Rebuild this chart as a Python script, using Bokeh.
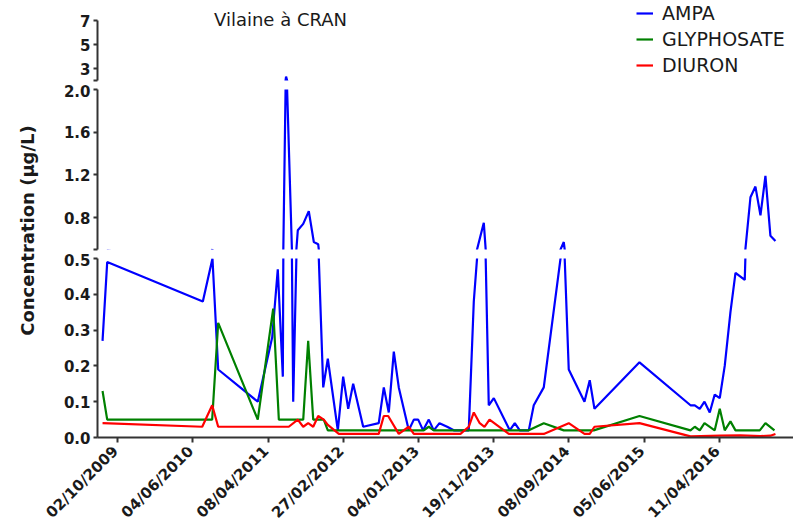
import math
from bokeh.plotting import figure
from bokeh.layouts import row, column
from bokeh.core.properties import value
from bokeh.models import (Range1d, FixedTicker, Label, LabelSet, Legend, LegendItem,
                          NumeralTickFormatter, ColumnDataSource)
from bokeh.embed import file_html
from bokeh.resources import INLINE

# ---------------- data ----------------
title_text = "Vilaine à CRAN"
y_label = "Concentration (µg/L)"
series_names = ["AMPA", "GLYPHOSATE", "DIURON"]
series_colors = ["#0000ff", "#008000", "#ff0000"]

x_tick_labels = ["02/10/2009", "04/06/2010", "08/04/2011", "27/02/2012", "04/01/2013",
                 "19/11/2013", "08/09/2014", "05/06/2015", "11/04/2016"]

# x positions expressed in units of the (evenly spaced) date tick interval
ampa_x = [-0.199, -0.137, 1.134, 1.262, 1.338, 1.864, 2.056, 2.130, 2.197, 2.240, 2.335,
          2.396, 2.468, 2.542, 2.609, 2.667, 2.734, 2.795, 2.928, 2.999, 3.066, 3.132,
          3.265, 3.472, 3.539, 3.605, 3.672, 3.738, 3.871, 3.938, 3.996, 4.062, 4.137,
          4.203, 4.279, 4.381, 4.469, 4.668, 4.735, 4.868, 4.934, 5.001, 5.213, 5.280,
          5.346, 5.466, 5.532, 5.665, 5.931, 5.997, 6.206, 6.276, 6.339, 6.937, 7.615,
          7.672, 7.738, 7.801, 7.871, 7.937, 8.004, 8.070, 8.146, 8.213, 8.336, 8.412,
          8.478, 8.545, 8.611, 8.677, 8.744]
ampa_y = [0.27, 0.49, 0.38, 0.50, 0.19, 0.10, 0.28, 0.47, 0.17, 2.33, 0.10,
          0.68, 0.74, 0.86, 0.57, 0.55, 0.14, 0.22, 0.02, 0.17, 0.08, 0.15,
          0.03, 0.04, 0.14, 0.07, 0.24, 0.14, 0.02, 0.05, 0.05, 0.02, 0.05,
          0.02, 0.04, 0.03, 0.02, 0.02, 0.38, 0.75, 0.09, 0.11, 0.02, 0.04,
          0.02, 0.02, 0.09, 0.14, 0.57, 0.19, 0.10, 0.16, 0.08, 0.21, 0.09,
          0.09, 0.08, 0.10, 0.07, 0.12, 0.11, 0.20, 0.35, 0.46, 0.44, 0.99,
          1.09, 0.82, 1.19, 0.63, 0.58]

glypho_x = [-0.199, -0.137, 1.258, 1.338, 1.864, 2.069, 2.144, 2.468, 2.534, 2.601, 2.741,
            2.795, 4.070, 4.137, 4.203, 5.466, 5.665, 5.931, 6.330, 6.937, 7.615, 7.672,
            7.738, 7.801, 7.937, 8.004, 8.070, 8.146, 8.213, 8.536, 8.611, 8.731]
glypho_y = [0.13, 0.05, 0.05, 0.32, 0.05, 0.36, 0.05, 0.05, 0.27, 0.05, 0.05,
            0.02, 0.02, 0.03, 0.02, 0.02, 0.04, 0.02, 0.02, 0.06, 0.02, 0.03,
            0.02, 0.04, 0.02, 0.08, 0.02, 0.045, 0.02, 0.02, 0.04, 0.02]

diuron_x = [-0.199, 1.126, 1.258, 1.338, 2.276, 2.396, 2.468, 2.534, 2.601, 2.667, 2.741,
            2.795, 2.941, 3.472, 3.539, 3.597, 3.738, 3.871, 3.938, 4.558, 4.668, 4.735,
            4.814, 4.877, 4.944, 5.200, 5.665, 5.997, 6.206, 6.276, 6.339, 6.937, 7.615,
            8.013, 8.279, 8.545, 8.677, 8.744]
diuron_y = [0.04, 0.03, 0.09, 0.03, 0.03, 0.05, 0.03, 0.04, 0.03, 0.06, 0.05,
            0.035, 0.01, 0.01, 0.06, 0.06, 0.01, 0.03, 0.01, 0.01, 0.03, 0.07,
            0.04, 0.03, 0.05, 0.01, 0.01, 0.04, 0.01, 0.01, 0.03, 0.04, 0.003,
            0.005, 0.006, 0.004, 0.005, 0.01]

# broken y axis: three segments
bottom_ticks = [0.0, 0.1, 0.2, 0.3, 0.4, 0.5]
middle_ticks = [0.5, 0.8, 1.2, 1.6, 2.0]
top_ticks = [2, 3, 5, 7]

# ---------------- styling ----------------
FONT = "DejaVu Sans"
TXT = "#1a1a1a"
AX = "#333333"
LAB_W = 40
MAIN_W = 753
LEFT = 57
X_AXIS, X_END = -0.266, 8.984
STRIP_W = LAB_W + MAIN_W
STRIP_START = X_AXIS - (LAB_W + LEFT) * (X_END - X_AXIS) / (MAIN_W - LEFT)

sources = [ColumnDataSource(dict(x=ampa_x, y=ampa_y)),
           ColumnDataSource(dict(x=glypho_x, y=glypho_y)),
           ColumnDataSource(dict(x=diuron_x, y=diuron_y))]

x_range = Range1d(X_AXIS, X_END)


def style_axis(ax):
    ax.axis_line_color = AX
    ax.axis_line_width = 2
    ax.major_tick_line_color = AX
    ax.major_tick_line_width = 2
    ax.major_tick_in = 0
    ax.minor_tick_out = 0
    ax.minor_tick_in = 0
    ax.major_label_text_font = FONT
    ax.major_label_text_font_style = "bold"
    ax.major_label_text_color = TXT


def style_yaxis(ax, ticks, overrides, fmt, bounds):
    style_axis(ax)
    ax.ticker = FixedTicker(ticks=ticks)
    ax.formatter = NumeralTickFormatter(format=fmt)
    ax.major_label_overrides = overrides
    ax.bounds = bounds
    ax.major_tick_out = 4
    ax.major_label_standoff = 3
    ax.major_label_text_font_size = "15px"


def make_fig(height, y0, y1, top, bottom, with_x):
    p = figure(width=MAIN_W, height=height, x_range=x_range, y_range=Range1d(y0, y1),
               output_backend="svg", toolbar_location=None,
               x_axis_location="below" if with_x else None,
               min_border_left=LEFT, min_border_right=0,
               min_border_top=top, min_border_bottom=bottom)
    p.outline_line_color = None
    p.grid.visible = False
    p.background_fill_color = "white"
    p.border_fill_color = "white"
    rs = []
    for src, col in zip(sources, series_colors):
        rs.append(p.line("x", "y", source=src, line_color=col, line_width=2.2))
    return p, rs


# top segment: frame spans the whole canvas (room for title and legend), axis limited to 2..7
p_top, r_top = make_fig(84, 2, 2 + 80 / 12, 0, 4, False)
style_yaxis(p_top.yaxis[0], top_ticks, {2: ""}, "0", (2, 7))

p_mid, _ = make_fig(169, 0.5, 2.0, 5, 4, False)
style_yaxis(p_mid.yaxis[0], middle_ticks, {0.5: ""}, "0.0", (0.5, 2.0))

p_bot, _ = make_fig(194, 0.0, 0.5, 5, 10, True)
style_yaxis(p_bot.yaxis[0], bottom_ticks, {}, "0.0", (0.0, 0.5))

x_ticks = list(range(len(x_tick_labels)))
xa = p_bot.xaxis[0]
style_axis(xa)
xa.ticker = FixedTicker(ticks=x_ticks)
xa.major_label_overrides = {i: "" for i in x_ticks}
xa.major_label_text_font_size = "0px"
xa.major_label_standoff = 0
xa.major_tick_out = 5

# full-width strip under the plot carrying the rotated date labels (same x mapping)
strip = figure(width=STRIP_W, height=78, x_range=Range1d(STRIP_START, X_END),
               y_range=Range1d(0, 1), output_backend="svg", toolbar_location=None,
               x_axis_location=None, y_axis_location=None, min_border=0)
strip.outline_line_color = None
strip.grid.visible = False
tick_src = ColumnDataSource(dict(x=x_ticks, y=[1.0] * len(x_ticks), text=x_tick_labels))
strip.add_layout(LabelSet(x="x", y="y", text="text", source=tick_src,
                          x_offset=-2, y_offset=-1, angle=math.pi / 4,
                          text_align=value("right"), text_baseline=value("middle"),
                          text_font=value(FONT), text_font_style=value("bold"),
                          text_font_size=value("15px"), text_color=value(TXT)))

# title
p_top.add_layout(Label(x=2.166, y=7.125, text=title_text, text_align="center",
                       text_baseline="middle", text_font=FONT, text_font_size="18px",
                       text_color=TXT))

# legend (location relative to the frame's bottom-left corner)
legend = Legend(items=[LegendItem(label=n, renderers=[r]) for n, r in zip(series_names, r_top)],
                location=(539, 4), orientation="vertical",
                border_line_color=None, background_fill_alpha=0,
                padding=0, margin=0, spacing=4,
                glyph_width=17, glyph_height=14, label_standoff=9,
                label_text_font=FONT, label_text_font_size="19px",
                label_text_color=TXT)
p_top.add_layout(legend)

# y axis title in its own narrow panel
PLOT_H = 84 + 169 + 194
lab_fig = figure(width=LAB_W, height=PLOT_H, x_range=Range1d(0, 1), y_range=Range1d(0, 1),
                 output_backend="svg", toolbar_location=None,
                 x_axis_location=None, y_axis_location=None, min_border=0)
lab_fig.outline_line_color = None
lab_fig.grid.visible = False
lab_fig.add_layout(Label(x=0.675, y=1 - 230 / PLOT_H, text=y_label, angle=math.pi / 2,
                         text_align="center", text_baseline="middle",
                         text_font=FONT, text_font_style="bold", text_font_size="18px",
                         text_color=TXT))

layout = column(row(lab_fig, column(p_top, p_mid, p_bot, spacing=0), spacing=0),
                strip, spacing=0)

open("out.html", "w").write(file_html(layout, INLINE))
